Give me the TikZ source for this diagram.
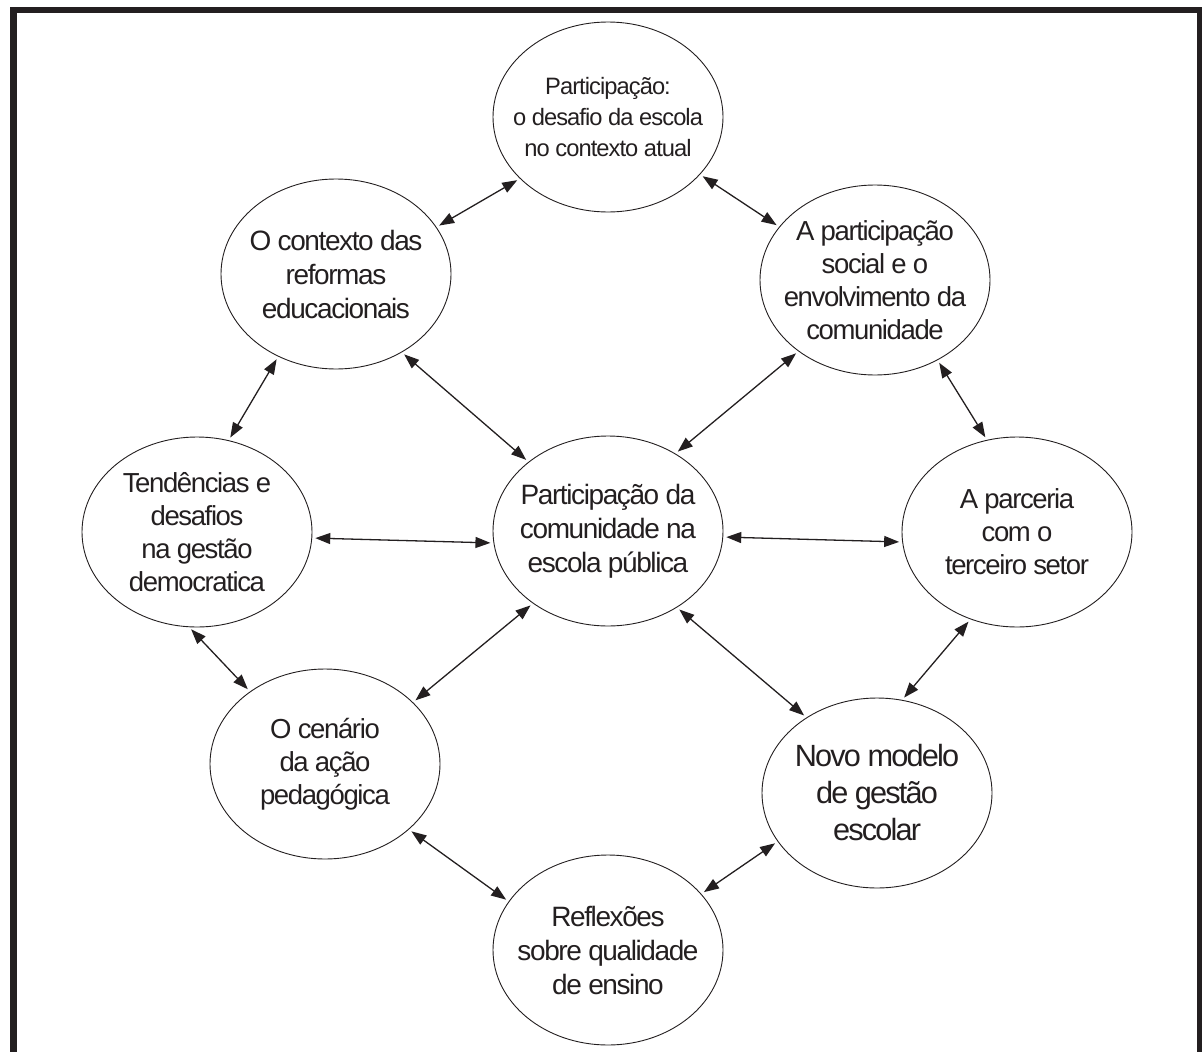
\documentclass[tikz,border=0pt]{standalone}
\usepackage{fontspec}
\setmainfont{Liberation Sans}
\newfontfamily\lbl[LetterSpace=-5]{Liberation Sans}
\newfontfamily\lbltop[LetterSpace=-4]{Liberation Sans}
\newfontfamily\lblnovo[LetterSpace=-6]{Liberation Sans}
\usetikzlibrary{shapes.geometric,arrows.meta}
\definecolor{ink}{RGB}{35,31,32}
\begin{document}
\begin{tikzpicture}[x=1pt,y=-1pt,
  bubble/.style={ellipse,draw=ink,line width=0.9pt,minimum width=230pt,minimum height=190pt,inner sep=0pt,outer sep=0pt},
  lbltext/.style={align=center,text=ink,inner sep=0pt,font={\lbl\fontsize{27.5}{33}\selectfont}},
  link/.style={{Triangle[length=15pt,width=11pt]}-{Triangle[length=15pt,width=11pt]},line width=1.3pt,draw=ink,shorten <=3.5pt,shorten >=3.5pt}]
\useasboundingbox (0,0) rectangle (1202,1052);
% frame
\draw[ink,line width=6.5pt] (13.5,1070) -- (13.5,10) -- (1200.5,10) -- (1200.5,1070);
% ellipses
\node[bubble] (top) at (608,117) {};
\node[bubble] (ctx) at (336,274) {};
\node[bubble] (soc) at (875,280) {};
\node[bubble] (ten) at (197,532) {};
\node[bubble] (mid) at (608,531) {};
\node[bubble] (par) at (1017,532) {};
\node[bubble] (cen) at (325,764) {};
\node[bubble] (nov) at (877,793) {};
\node[bubble] (ref) at (608,950) {};
% texts
\node[lbltext,font={\lbltop\fontsize{23.7}{31}\selectfont}] (topt) at (top.center) {Participação:\\o desafio da escola\\no contexto atual};
\node[lbltext,font={\lbl\fontsize{28}{34}\selectfont}] (ctxt) at (ctx.center) {O contexto das\\reformas\\educacionais};
\node[lbltext] (soct) at (soc.center) {A participação\\social e o\\envolvimento da\\comunidade};
\node[lbltext] (tent) at (ten.center) {Tendências e\\desafios\\na gestão\\democratica};
\node[lbltext,font={\lbl\fontsize{28}{34}\selectfont}] (midt) at (mid.center) {Participação da\\comunidade na\\escola pública};
\node[lbltext] (part) at (par.center) {A parceria\\com o\\terceiro setor};
\node[lbltext] (cent) at (cen.center) {O cenário\\da ação\\pedagógica};
\node[lbltext,font={\lblnovo\fontsize{30.7}{37}\selectfont}] (novt) at (nov.center) {Novo modelo\\de gestão\\escolar};
\node[lbltext,font={\lbl\fontsize{28}{34}\selectfont}] (reft) at (ref.center) {Reflexões\\sobre qualidade\\de ensino};
% connectors
\draw[link] (top.215) -- (ctx.25);
\draw[link] (top.328) -- (soc.151);
\draw[link] (ctx.310) -- (mid.139);
\draw[link] (soc.223) -- (mid.49);
\draw[link] (ctx.235) -- (ten.71);
\draw[link] (soc.308) -- (par.108);
\draw[link] (ten.357) -- (mid.186);
\draw[link] (mid.357) -- (par.185);
\draw[link] (ten.265) -- (cen.136);
\draw[link] (cen.35) -- (mid.224);
\draw[link] (mid.312) -- (nov.133);
\draw[link] (par.242) -- (nov.75);
\draw[link] (cen.322) -- (ref.154);
\draw[link] (nov.206) -- (ref.31);
\end{tikzpicture}
\end{document}
